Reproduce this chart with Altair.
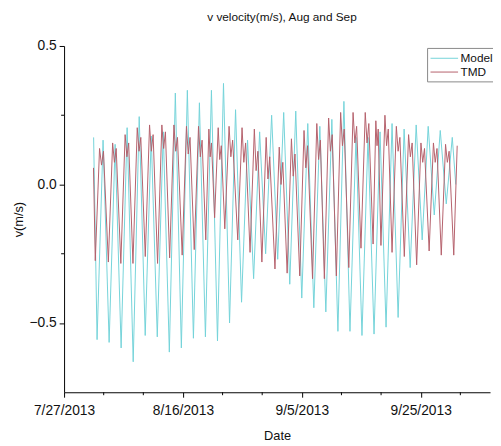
import altair as alt
import pandas as pd

BASE = pd.Timestamp("2013-07-27")
FONT = "Liberation Sans"

# ---- Model (cyan): troughs and crests, day offsets from 7/27/2013 ----
model_trough_day = [5.55, 7.58, 9.60, 11.63, 13.65, 15.68, 17.71, 19.73, 21.76, 23.78,
                    25.81, 27.84, 29.86, 31.89, 33.91, 35.94, 37.97, 39.99, 42.02, 44.04,
                    46.07, 48.10, 50.12, 52.15, 54.17, 56.20, 58.23, 60.25, 62.28, 64.30]
model_trough_v = [-0.56, -0.57, -0.59, -0.64, -0.545, -0.55, -0.605, -0.59, -0.555, -0.55,
                  -0.565, -0.50, -0.425, -0.34, -0.25, -0.27, -0.36, -0.41, -0.445, -0.46,
                  -0.53, -0.53, -0.545, -0.54, -0.515, -0.48, -0.30, -0.20, -0.11, -0.07]
model_crest_day = [4.97, 6.56, 8.59, 10.61, 12.64, 14.66, 16.69, 18.72, 20.74, 22.77, 24.79,
                   26.82, 28.85, 30.87, 32.90, 34.92, 36.95, 38.98, 41.00, 43.03, 45.05,
                   47.08, 49.11, 51.13, 53.16, 55.18, 57.21, 59.24, 61.26, 63.29, 65.31, 65.90]
model_crest_v = [0.17, 0.16, 0.145, 0.205, 0.245, 0.175, 0.19, 0.33, 0.34, 0.295, 0.34,
                 0.365, 0.27, 0.16, 0.19, 0.25, 0.26, 0.265, 0.22, 0.21, 0.235,
                 0.30, 0.17, 0.17, 0.19, 0.22, 0.20, 0.215, 0.21, 0.195, 0.17, 0.0]

# ---- TMD (red): troughs, first hump, dip, second hump ----
tmd_trough_day = [4.95, 5.25, 7.45, 9.55, 11.59, 13.66, 15.73, 17.76, 19.87, 21.90, 23.84,
                  25.33, 27.04, 29.22, 31.29, 33.28, 35.48, 37.53, 39.65, 41.80, 43.79,
                  45.81, 47.90, 49.95, 51.99, 53.31, 55.18, 57.24, 59.32, 61.42, 63.46,
                  65.56, 66.14]
tmd_trough_v = [0.06, -0.275, -0.28, -0.285, -0.285, -0.26, -0.285, -0.265, -0.255, -0.235, -0.20,
                -0.12, -0.16, -0.20, -0.245, -0.28, -0.305, -0.32, -0.33, -0.34, -0.34,
                -0.33, -0.30, -0.23, -0.215, -0.22, -0.245, -0.26, -0.29, -0.24, -0.255,
                -0.255, 0.14]
tmd_hump1_day = [5.97, 8.17, 10.27, 12.31, 14.38, 16.45, 18.48, 20.59, 22.62, 24.36,
                 25.93, 27.76, 29.94, 32.01, 34.00, 36.20, 38.25, 40.37, 42.52, 44.51,
                 46.53, 48.62, 50.67, 52.45, 53.98, 55.90, 57.96, 60.04, 62.14, 64.18]
tmd_hump1_v = [0.13, 0.15, 0.18, 0.205, 0.215, 0.215, 0.215, 0.21, 0.21, 0.20,
               0.205, 0.21, 0.205, 0.20, 0.17, 0.135, 0.165, 0.195, 0.22, 0.24,
               0.26, 0.26, 0.26, 0.23, 0.25, 0.21, 0.18, 0.15, 0.15, 0.145]
tmd_dip_day = [6.30, 8.47, 10.57, 12.61, 14.68, 16.75, 18.78, 20.89, 22.92, 24.58,
               26.19, 28.06, 30.24, 32.31, 34.30, 36.50, 38.55, 40.67, 42.82, 44.81,
               46.83, 48.92, 50.97, 52.65, 54.26, 56.20, 58.26, 60.34, 62.44, 64.48]
tmd_dip_v = [0.07, 0.08, 0.10, 0.12, 0.12, 0.13, 0.12, 0.11, 0.10, 0.10,
             0.09, 0.10, 0.08, 0.05, 0.02, 0.00, 0.03, 0.06, 0.09, 0.12,
             0.14, 0.15, 0.15, 0.14, 0.14, 0.12, 0.10, 0.08, 0.08, 0.08]
tmd_hump2_day = [6.63, 8.77, 10.87, 12.91, 14.98, 17.05, 19.08, 21.19, 23.22, 24.80,
                 26.45, 28.36, 30.54, 32.61, 34.60, 36.80, 38.85, 40.97, 43.12, 45.11,
                 47.13, 49.22, 51.27, 52.85, 54.54, 56.50, 58.56, 60.64, 62.74, 64.78]
tmd_hump2_v = [0.12, 0.13, 0.15, 0.17, 0.18, 0.19, 0.17, 0.17, 0.16, 0.15,
               0.14, 0.16, 0.15, 0.12, 0.10, 0.08, 0.11, 0.14, 0.16, 0.18,
               0.20, 0.21, 0.22, 0.20, 0.20, 0.17, 0.15, 0.13, 0.13, 0.12]

series_names = ["Model", "TMD"]
series_colors = ["#74d3d9", "#b5606b"]

x_major = ["2013-07-27", "2013-08-16", "2013-09-05", "2013-09-25"]
x_minor = ["2013-08-02T16:00", "2013-08-09T08:00", "2013-08-22T16:00", "2013-08-29T08:00",
           "2013-09-11T16:00", "2013-09-18T08:00", "2013-10-01T16:00"]
y_major = [-0.5, 0.0, 0.5]
y_minor = [-0.25, 0.25]

W, H = 433, 352


def to_dt(days):
    return BASE + pd.to_timedelta(pd.Series(days, dtype=float), unit="D")


model = pd.DataFrame({"day": model_trough_day + model_crest_day,
                      "v": model_trough_v + model_crest_v})
model["series"] = "Model"
tmd = pd.DataFrame({"day": tmd_trough_day + tmd_hump1_day + tmd_dip_day + tmd_hump2_day,
                    "v": tmd_trough_v + tmd_hump1_v + tmd_dip_v + tmd_hump2_v})
tmd["series"] = "TMD"
df = pd.concat([model, tmd], ignore_index=True).sort_values(["series", "day"]).reset_index(drop=True)
df["date"] = to_dt(df["day"].tolist()).dt.strftime("%Y-%m-%dT%H:%M:%S")


def dt(s):
    t = pd.Timestamp(s)
    return alt.DateTime(year=t.year, month=t.month, date=t.day, hours=t.hour, minutes=t.minute)


x_dom = [dt("2013-07-27"), dt("2013-10-06T16:00")]
x_scale = alt.Scale(domain=x_dom)
y_scale = alt.Scale(domain=[-0.75, 0.5], nice=False, zero=False)

x_axis = alt.Axis(values=[dt(s) for s in x_major], format="%-m/%-d/%Y", labelFlush=False,
                  labelFontSize=14, labelFont=FONT, labelColor="#111", labelPadding=7,
                  tickSize=5, tickColor="black", domainColor="black", grid=False,
                  title="Date", titleFont=FONT, titleFontSize=13, titleFontWeight="normal",
                  titleColor="#111", titlePadding=12, labelOverlap=False)
y_axis = alt.Axis(values=y_major, format=".1f", labelFontSize=14, labelFont=FONT,
                  labelColor="#111", labelPadding=3, tickSize=5, tickColor="black",
                  domainColor="black", grid=False, title="v(m/s)", titleFont=FONT,
                  titleFontSize=13, titleFontWeight="normal", titleColor="#111",
                  titlePadding=4)

lines = alt.Chart(df).mark_line(strokeWidth=1, clip=True).encode(
    x=alt.X("date:T", scale=x_scale, axis=x_axis),
    y=alt.Y("v:Q", scale=y_scale, axis=y_axis),
    color=alt.Color("series:N",
                    scale=alt.Scale(domain=series_names, range=series_colors),
                    legend=alt.Legend(title=None, orient="none", legendX=369, legendY=2,
                                      symbolType="M-2,0L2,0", symbolSize=196,
                                      symbolOffset=7, symbolStrokeWidth=1,
                                      labelFont=FONT, labelFontSize=12,
                                      labelColor="#111", labelOffset=9, rowPadding=0,
                                      padding=3, strokeColor="#888", fillColor="white")),
    order=alt.Order("day:Q"),
)

xminor = alt.Chart(pd.DataFrame({"d": x_minor})).mark_rule(color="black", strokeWidth=1).encode(
    x=alt.X("d:T", scale=x_scale, axis=x_axis),
    y=alt.value(H), y2=alt.value(H + 3),
)
yminor = alt.Chart(pd.DataFrame({"v": y_minor})).mark_rule(color="black", strokeWidth=1).encode(
    y=alt.Y("v:Q", scale=y_scale, axis=y_axis),
    x=alt.value(0), x2=alt.value(-3),
)

chart = alt.layer(lines, xminor, yminor).properties(
    width=W, height=H,
    title=alt.TitleParams("v velocity(m/s), Aug and Sep", font=FONT, fontSize=12,
                          fontWeight="normal", color="#111", anchor="middle",
                          frame="group", offset=15, dx=5),
    padding={"left": 57, "top": 35, "right": 3, "bottom": 50},
    autosize=alt.AutoSizeParams(type="none"),
).configure_view(stroke=None)

chart.save("out.html", embed_options={"renderer": "svg", "actions": False})
